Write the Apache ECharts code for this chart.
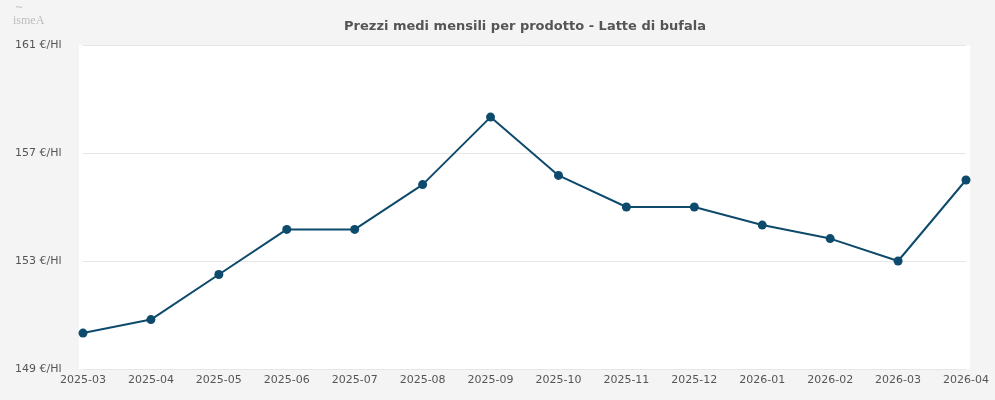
<!DOCTYPE html>
<html>
<head>
<meta charset="UTF-8">
<title>Latte di bufala</title>
<script src="https://cdn.jsdelivr.net/npm/echarts@6/dist/echarts.min.js"></script>
<style>
  html, body { margin: 0; padding: 0; background: #f4f4f4; }
  #main { width: 995px; height: 400px; }
</style>
</head>
<body>
<div id="main"></div>
<script type="text/javascript">
// mesi e prezzi medi (€/Hl)
var mesi = ['2025-03', '2025-04', '2025-05', '2025-06', '2025-07', '2025-08', '2025-09',
            '2025-10', '2025-11', '2025-12', '2026-01', '2026-02', '2026-03', '2026-04'];
var prezzi = [150.33, 150.83, 152.5, 154.17, 154.17, 155.83, 158.33,
              156.17, 155, 155, 154.33, 153.83, 153, 156];
var yMin = 149, yMax = 161, yStep = 4;

var myChart = echarts.init(document.getElementById('main'));

var option = {
  backgroundColor: '#f4f4f4',
  animation: false,
  title: {
    text: 'Prezzi medi mensili per prodotto - Latte di bufala',
    left: 520,
    textAlign: 'center',
    top: 15,
    textStyle: { fontFamily: 'DejaVu Sans', fontSize: 13, fontWeight: 'bold', color: '#555' }
  },
  graphic: [
    // area bianca del grafico, poco più larga della griglia
    { type: 'rect', z: -10, shape: { x: 79, y: 45, width: 891, height: 324 }, style: { fill: '#ffffff' } },
    { type: 'text', left: 15, top: 3, style: { text: '~', fill: '#c4c4c4', font: '10px "DejaVu Sans"' } },
    { type: 'text', left: 13, top: 15, style: { text: 'ismeA', fill: '#bdbdbd', font: '12px "Liberation Serif"' } }
  ],
  grid: { left: 83, right: 29, top: 45, bottom: 31 },
  xAxis: {
    type: 'category',
    data: mesi,
    boundaryGap: false,
    axisLine: { show: false },
    axisTick: { show: false },
    axisLabel: { color: '#555', fontFamily: 'DejaVu Sans', fontSize: 11, margin: 6 }
  },
  yAxis: {
    type: 'value',
    min: yMin,
    max: yMax,
    interval: yStep,
    axisLine: { show: false },
    axisTick: { show: false },
    splitLine: { lineStyle: { color: '#e6e6e6', width: 1 } },
    axisLabel: {
      color: '#555', fontFamily: 'DejaVu Sans', fontSize: 11,
      align: 'left', margin: 68,
      formatter: function (v) { return v + ' €/Hl'; }
    }
  },
  series: [{
    type: 'line',
    data: prezzi,
    symbol: 'circle',
    symbolSize: 9,
    lineStyle: { color: '#0d4a6c', width: 2 },
    itemStyle: { color: '#0d4a6c' }
  }]
};
myChart.setOption(option);
</script>
</body>
</html>
